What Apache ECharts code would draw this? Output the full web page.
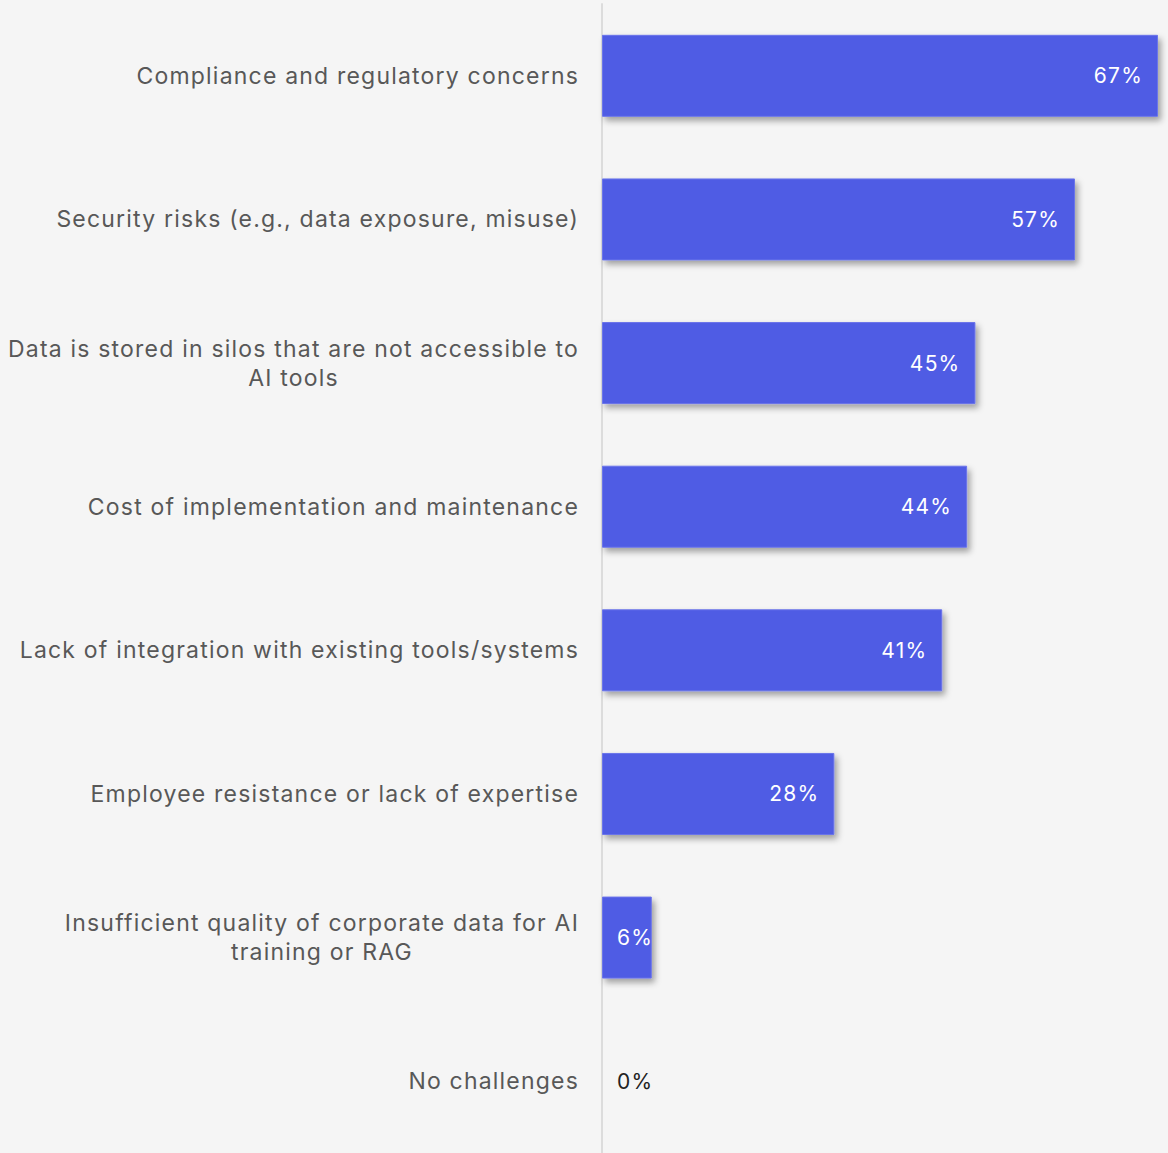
<!DOCTYPE html>
<html>
<head>
<meta charset="utf-8">
<script src="https://cdn.jsdelivr.net/npm/echarts@6/dist/echarts.min.js"></script>
<style>
  html, body { margin: 0; padding: 0; background: #f5f5f5; }
  #chart { width: 1168px; height: 1153px; }
</style>
</head>
<body>
<div id="chart"></div>
<script>
// Challenges in adopting AI tools (% of respondents)
const categories = [
  'Compliance and regulatory concerns',
  'Security risks (e.g., data exposure, misuse)',
  'Data is stored in silos that are not accessible to\nAI tools',
  'Cost of implementation and maintenance',
  'Lack of integration with existing tools/systems',
  'Employee resistance or lack of expertise',
  'Insufficient quality of corporate data for AI\ntraining or RAG',
  'No challenges'
];
const values = [67, 57, 45, 44, 41, 28, 6, 0];

const FONT = 'Inter';
const TRACKING = 1.2;   // px of letter spacing on all chart text
const SMALL_BAR = 10;   // bars below this value keep their label at the left edge

// open tracking: the svg text gets CSS letter-spacing, so layout measurement includes it too
const style = document.createElement('style');
style.textContent = '#chart svg text { letter-spacing: ' + TRACKING + 'px; }';
document.head.appendChild(style);
const measureCtx = document.createElement('canvas').getContext('2d');
echarts.setPlatformAPI({
  measureText(text, font) {
    measureCtx.font = font || '12px sans-serif';
    const t = String(text);
    return { width: measureCtx.measureText(t).width + t.length * TRACKING };
  }
});

const barData = values.map(v => {
  if (v === 0) {
    return {
      value: v,
      itemStyle: { borderWidth: 0, shadowBlur: 0, shadowOffsetX: 0, shadowOffsetY: 0 },
      label: { position: 'right', distance: 15, color: '#222222' }
    };
  }
  if (v < SMALL_BAR) {
    return { value: v, label: { position: 'insideLeft', distance: 15 } };
  }
  return { value: v };
});

// multi-line category labels: block right-aligned to the axis, lines centred within it
const labelFormatter = s => s.split('\n').map(line => '{c|' + line + '}').join('\n');

const chart = echarts.init(document.getElementById('chart'), null, { renderer: 'svg' });
chart.setOption({
  backgroundColor: '#f5f5f5',
  animation: false,
  grid: { left: 602, right: 10, top: 4, height: 1152, containLabel: false },
  xAxis: {
    type: 'value',
    min: 0,
    max: 67,
    show: false
  },
  yAxis: {
    type: 'category',
    data: categories,
    inverse: true,
    axisLine: { show: true, lineStyle: { color: '#dcdcdc', width: 2 } },
    axisTick: { show: false },
    axisLabel: {
      margin: 23,
      align: 'right',
      formatter: labelFormatter,
      rich: {
        c: {
          align: 'center',
          fontFamily: FONT,
          fontSize: 23,
          color: '#585858',
          lineHeight: 29
        }
      }
    }
  },
  series: [{
    type: 'bar',
    data: barData,
    barWidth: 82,
    itemStyle: {
      color: '#4f5be4',
      borderColor: '#6a74ea',
      borderWidth: 1,
      shadowColor: 'rgba(0,0,0,0.35)',
      shadowBlur: 6,
      shadowOffsetX: 3,
      shadowOffsetY: 4
    },
    label: {
      show: true,
      position: 'insideRight',
      distance: 15,
      formatter: '{c}%',
      fontFamily: FONT,
      fontSize: 21,
      color: '#ffffff'
    }
  }]
});
</script>
</body>
</html>
